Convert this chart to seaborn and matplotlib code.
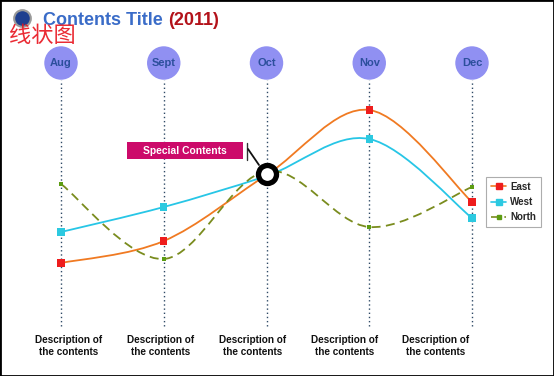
import numpy as np
import pandas as pd
import matplotlib
matplotlib.use("Agg")
import matplotlib.pyplot as plt
import seaborn as sns
from matplotlib.path import Path
from matplotlib.patches import PathPatch, Rectangle
from matplotlib.lines import Line2D

# ---------------- data ----------------
months = ["Aug", "Sept", "Oct", "Nov", "Dec"]
east = [33.5, 44.5, 77.5, 110.0, 64.0]
west = [49.0, 61.5, 77.0, 95.5, 56.0]
north = [73.0, 35.5, 79.5, 51.5, 71.5]
series_names = ["East", "West", "North"]
descriptions = ["Description of\nthe contents"] * 5
special_label = "Special Contents"
special_month = "Oct"
title_main = "Contents Title"
title_year = "(2011)"
handwriting = "线状图"

# ---------------- styling ----------------
sns.set_theme(style="white")
plt.rcParams["font.family"] = ["Liberation Sans", "DejaVu Sans"]

W, H = 554, 376
fig = plt.figure(figsize=(W / 100, H / 100), dpi=100)
ax = fig.add_axes([0, 0, 1, 1])
X0, PXX = 61.0, 102.75          # pixel of first month, pixels per month
YB, PXY = 330.0, 2.0            # value 0 pixel row, pixels per value unit


def set_limits():
    ax.set_xlim(-X0 / PXX, (W - X0) / PXX)
    ax.set_ylim((YB - H) / PXY, YB / PXY)
    ax.set_xlabel("")
    ax.set_ylabel("")
    ax.axis("off")


set_limits()


def yv(py):
    return (YB - py) / PXY


def xv(px):
    return (px - X0) / PXX


def ff(px, py):
    return px / W, 1 - py / H


pos = np.arange(len(months))

# vertical dotted guides
ax.vlines(pos, yv(326), yv(80), colors="#2f4a66", linestyles=(0, (1, 2)), lw=1.0, zorder=1)

# month bubbles
ax.scatter(pos, [yv(63)] * len(months), s=580, color="#9090f2", edgecolors="none", zorder=3)
for p, m in zip(pos, months):
    ax.text(p, yv(63.5), m, ha="center", va="center", fontsize=8, fontweight="bold",
            color="#2c4f9c", zorder=4)


# smooth curves (Catmull-Rom as cubic Bezier path through the data points)
def smooth_path(xs, ys):
    pts = np.column_stack([xs, ys]).astype(float)
    n = len(pts)
    verts = [pts[0]]
    codes = [Path.MOVETO]
    for i in range(n - 1):
        p0 = pts[i - 1] if i > 0 else pts[i]
        p1 = pts[i]
        p2 = pts[i + 1]
        p3 = pts[i + 2] if i + 2 < n else pts[i + 1]
        c1 = p1 + (p2 - p0) / 6.0
        c2 = p2 - (p3 - p1) / 6.0
        verts += [c1, c2, p2]
        codes += [Path.CURVE4] * 3
    return Path(verts, codes)


line_colors = {"East": "#f07a22", "West": "#27c6e6", "North": "#7a8c1e"}
line_styles = {"East": "-", "West": "-", "North": (0, (5, 3))}
marker_colors = {"East": "#ee1d1d", "West": "#2cc9e0", "North": "#5c9c12"}
values = {"East": east, "West": west, "North": north}

for name in series_names:
    patch = PathPatch(smooth_path(pos, values[name]), facecolor="none",
                      edgecolor=line_colors[name], lw=1.3, linestyle=line_styles[name], zorder=5)
    ax.add_patch(patch)

df = pd.DataFrame({
    "pos": np.tile(pos, len(series_names)),
    "value": east + west + north,
    "series": np.repeat(series_names, len(months)),
})
sns.scatterplot(data=df, x="pos", y="value", hue="series", palette=marker_colors,
                size="series", sizes={"East": 26, "West": 26, "North": 9},
                marker="s", linewidth=0, legend=False, ax=ax, zorder=6)
set_limits()

# special marker ring at Oct
k = months.index(special_month)
ring_y = np.mean([east[k], west[k], north[k]])
ax.plot([k], [ring_y], marker="o", ms=13, mew=3.8, mec="black", mfc="white", zorder=8)

# special label box + connector
ax.add_patch(Rectangle((xv(127), yv(159)), xv(243) - xv(127), yv(142) - yv(159),
                       facecolor="#cc0a6a", edgecolor="none", zorder=7))
ax.text(xv(185), yv(151), special_label, ha="center", va="center", color="white",
        fontsize=7.4, fontweight="bold", zorder=8)
ax.plot([xv(247), xv(247)], [yv(143), yv(160)], color="#333333", lw=1.0, zorder=7)
ax.plot([xv(248), xv(259)], [yv(149), yv(165)], color="#111111", lw=1.3, zorder=7)

# descriptions
for dx, d in zip(np.linspace(69, 436, len(descriptions)), descriptions):
    fig.text(*ff(dx, 346), d, ha="center", va="center", fontsize=7.2, fontweight="bold",
             color="#111111", linespacing=1.15)

# title with globe icon
ax.plot([xv(22)], [yv(18)], marker="o", ms=12, mfc="#1f3f8f", mec="#9a9a9a", mew=1.5,
        zorder=2, clip_on=False)
t1 = fig.text(*ff(43, 25), title_main, ha="left", va="baseline", fontsize=13,
              fontweight="bold", color="#3a6cc8")
fig.canvas.draw()
bb = t1.get_window_extent()
fig.text((bb.x1 + 5) / W, 1 - 25 / H, title_year, ha="left", va="baseline", fontsize=13,
         fontweight="bold", color="#b3121a")
fig.text(*ff(9, 36), handwriting, ha="left", va="center", fontsize=16, color="#e8141e",
         family=["Noto Sans CJK SC", "DejaVu Sans"], alpha=0.9)

# legend
handles = [Line2D([0], [0], color=line_colors[n], lw=1.2, linestyle=line_styles[n],
                  marker="s", ms=4 if n != "North" else 2.5, mfc=marker_colors[n],
                  mec=marker_colors[n]) for n in series_names]
leg = fig.legend(handles, series_names, loc="upper left", bbox_to_anchor=ff(483, 174),
                 prop={"weight": "bold", "size": 7}, frameon=True,
                 fancybox=False, edgecolor="#999999", handlelength=1.6, borderpad=0.5,
                 labelspacing=0.55, handletextpad=0.4, borderaxespad=0.3)
leg.get_frame().set_linewidth(0.8)

# outer frame
fig.patches.append(Rectangle((0, 0), 1, 1, transform=fig.transFigure, fill=False,
                             edgecolor="black", lw=2.0, zorder=10))

fig.savefig("out.png", dpi=100)
